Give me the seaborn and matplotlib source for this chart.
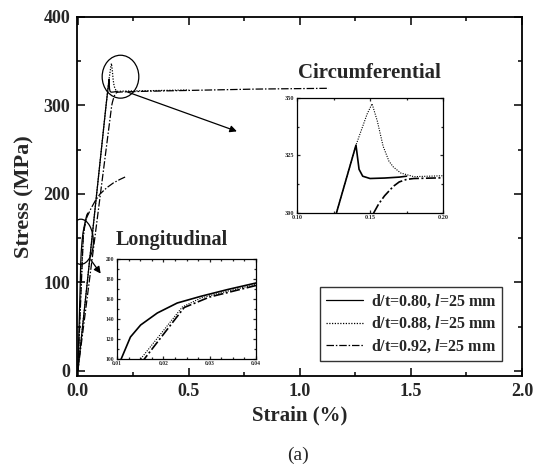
import matplotlib
matplotlib.use("Agg")
import matplotlib.pyplot as plt
import matplotlib.ticker as mticker
from matplotlib.patches import Ellipse
import pandas as pd
import seaborn as sns

# ---------------- data ----------------
# circumferential tests
circ_solid_x = [0.0, 0.127, 0.1404, 0.1415, 0.1425, 0.145, 0.150, 0.160, 0.170, 0.175]
circ_solid_y = [0.0, 300.0, 329.5, 324.0, 319.0, 316.0, 315.0, 315.2, 315.6, 316.0]

circ_dot_x = [0.0, 0.127, 0.1404, 0.148, 0.1514, 0.155, 0.159, 0.163, 0.166, 0.171, 0.180, 0.190, 0.200, 0.300, 0.500]
circ_dot_y = [0.0, 300.0, 329.5, 343.0, 347.5, 340.0, 329.0, 322.5, 320.0, 317.4, 315.8, 316.0, 316.2, 316.6, 317.5]

circ_dd_x = [0.0, 0.1525, 0.156, 0.160, 0.166, 0.170, 0.175, 0.180, 0.200, 0.300, 0.500, 0.800, 1.130]
circ_dd_y = [0.0, 300.0, 304.0, 307.5, 311.6, 313.5, 314.6, 315.0, 315.3, 316.0, 317.0, 318.5, 319.4]

# longitudinal tests
long_solid_x = [0.0, 0.0109, 0.0129, 0.0151, 0.0187, 0.0230, 0.0281, 0.0339, 0.0400, 0.0450]
long_solid_y = [0.0, 100.0, 122.0, 134.0, 146.0, 156.0, 162.7, 169.5, 176.0, 178.5]

long_dot_x = [0.0, 0.0151, 0.0241, 0.0281, 0.0340, 0.0400, 0.0450]
long_dot_y = [0.0, 100.0, 152.0, 161.0, 168.0, 174.6, 177.5]

long_dd_x = [0.0, 0.0159, 0.0245, 0.0300, 0.0400, 0.060, 0.080, 0.100, 0.130, 0.160, 0.190, 0.220]
long_dd_y = [0.0, 100.0, 151.5, 162.0, 173.5, 184.0, 193.0, 200.0, 207.0, 212.5, 216.5, 220.0]

legend_labels = ["d/t=0.80, $\\mathit{l}$=25 mm",
                 "d/t=0.88, $\\mathit{l}$=25 mm",
                 "d/t=0.92, $\\mathit{l}$=25 mm"]

x_ticks = [0.0, 0.5, 1.0, 1.5, 2.0]
y_ticks = [0, 100, 200, 300, 400]
circ_in_xticks = [0.10, 0.15, 0.20]
circ_in_yticks = [300, 325, 350]
long_in_xticks = [0.01, 0.02, 0.03, 0.04]
long_in_yticks = [100, 120, 140, 160, 180, 200]

# ---------------- style ----------------
sns.set_theme(style="ticks")
plt.rcParams['font.family'] = ['Liberation Serif', 'DejaVu Serif']
plt.rcParams['font.weight'] = 'bold'
plt.rcParams['mathtext.fontset'] = 'custom'
plt.rcParams['mathtext.it'] = 'Liberation Serif:italic:bold'
plt.rcParams['mathtext.rm'] = 'Liberation Serif:bold'

SOLID = '-'
DOT = (0, (1, 1.2))
DASHDOT = (0, (6, 1.5, 1.2, 1.5))


def curves(ax, lw, dot_lw):
    sets = [(circ_solid_x, circ_solid_y, long_solid_x, long_solid_y, SOLID, lw),
            (circ_dot_x, circ_dot_y, long_dot_x, long_dot_y, DOT, dot_lw),
            (circ_dd_x, circ_dd_y, long_dd_x, long_dd_y, DASHDOT, lw)]
    handles = []
    for cx, cy, lx, ly, ls, w in sets:
        c = pd.DataFrame({'strain': cx, 'stress': cy})
        l = pd.DataFrame({'strain': lx, 'stress': ly})
        sns.lineplot(data=c, x='strain', y='stress', sort=False, estimator=None,
                     color='black', linestyle=ls, linewidth=w, ax=ax)
        sns.lineplot(data=l, x='strain', y='stress', sort=False, estimator=None,
                     color='black', linestyle=ls, linewidth=w, ax=ax)
        handles.append(ax.lines[-1])
    return handles


def style_axes(ax, size, lw, major, minor):
    ax.tick_params(which='both', direction='in', top=True, right=True,
                   labelsize=size, width=lw)
    ax.tick_params(which='major', length=major)
    ax.tick_params(which='minor', length=minor)
    for s in ax.spines.values():
        s.set_linewidth(lw)
        s.set_color('black')
    ax.set_xlabel('')
    ax.set_ylabel('')
    for t in ax.get_xticklabels() + ax.get_yticklabels():
        t.set_fontweight('bold')


# ---------------- main axes ----------------
fig = plt.figure(figsize=(5.42, 4.71), dpi=100)
ax = fig.add_axes([0.142, 0.202, 0.821, 0.762])
handles = curves(ax, 0.9, 0.9)
ax.set_xlim(-0.004, 2.0)
ax.set_ylim(-5.5, 400)
ax.set_xticks(x_ticks)
ax.set_yticks(y_ticks)
ax.xaxis.set_minor_locator(mticker.MultipleLocator(0.25))
ax.yaxis.set_minor_locator(mticker.MultipleLocator(50))
ax.xaxis.set_major_formatter(mticker.FormatStrFormatter('%.1f'))
style_axes(ax, 13, 1.3, 6, 3)
ax.tick_params(axis='both', pad=5)
ax.set_xlabel('Strain (%)', fontsize=15, fontweight='bold', labelpad=4)
ax.set_ylabel('Stress (MPa)', fontsize=16, fontweight='bold', labelpad=6)

leg = ax.legend(handles, legend_labels, loc='lower right', bbox_to_anchor=(0.955, 0.042),
                fontsize=11.5, frameon=True, fancybox=False, edgecolor='black',
                handlelength=2.3, labelspacing=0.35, borderpad=0.35, handletextpad=0.5,
                borderaxespad=0)
leg.get_frame().set_linewidth(1.0)
for t in leg.get_texts():
    t.set_fontweight('bold')

# annotations
ax.add_patch(Ellipse((0.192, 332.5), 0.165, 48.5, fill=False, color='black', lw=0.9))
ax.add_patch(Ellipse((0.0134, 146), 0.113, 51, fill=False, color='black', lw=0.9))
ax.annotate('', xy=(0.728, 269.7), xytext=(0.207, 316.7),
            arrowprops=dict(arrowstyle='-|>', color='black', lw=0.9, mutation_scale=10))
ax.annotate('', xy=(0.110, 107.5), xytext=(0.0504, 128.3),
            arrowprops=dict(arrowstyle='-|>', color='black', lw=0.9, mutation_scale=10))

fig.text(369 / 542, 1 - 73 / 471, 'Circumferential', fontsize=15, fontweight='bold',
         ha='center', va='center')
fig.text(172 / 542, 1 - 240 / 471, 'Longitudinal', fontsize=14.5, fontweight='bold',
         ha='center', va='center')
fig.text(298 / 542, 1 - 455 / 471, '(a)', fontsize=14, fontweight='normal',
         ha='center', va='center')

# ---------------- circumferential inset ----------------
ax1 = fig.add_axes([297 / 542, 1 - 213 / 471, 146 / 542, 115 / 471])
curves(ax1, 1.2, 0.8)
ax1.set_xlim(0.10, 0.20)
ax1.set_ylim(300, 350)
ax1.set_xticks(circ_in_xticks)
ax1.set_yticks(circ_in_yticks)
ax1.xaxis.set_minor_locator(mticker.MultipleLocator(0.025))
ax1.yaxis.set_minor_locator(mticker.MultipleLocator(12.5))
ax1.xaxis.set_major_formatter(mticker.FormatStrFormatter('%.2f'))
style_axes(ax1, 4.5, 0.9, 2.5, 1.5)
ax1.tick_params(axis='x', pad=1.5)
ax1.tick_params(axis='y', pad=2)

# ---------------- longitudinal inset ----------------
ax2 = fig.add_axes([117 / 542, 1 - 359 / 471, 139 / 542, 100 / 471])
curves(ax2, 1.2, 0.8)
ax2.set_xlim(0.01, 0.04)
ax2.set_ylim(100, 200)
ax2.set_xticks(long_in_xticks)
ax2.set_yticks(long_in_yticks)
ax2.xaxis.set_minor_locator(mticker.MultipleLocator(0.0025))
ax2.yaxis.set_minor_locator(mticker.MultipleLocator(10))
ax2.xaxis.set_major_formatter(mticker.FormatStrFormatter('%.2f'))
style_axes(ax2, 4, 0.9, 2.5, 1.5)
ax2.tick_params(axis='x', pad=1.5)
ax2.tick_params(axis='y', pad=2)

fig.savefig('out.png', dpi=100)
